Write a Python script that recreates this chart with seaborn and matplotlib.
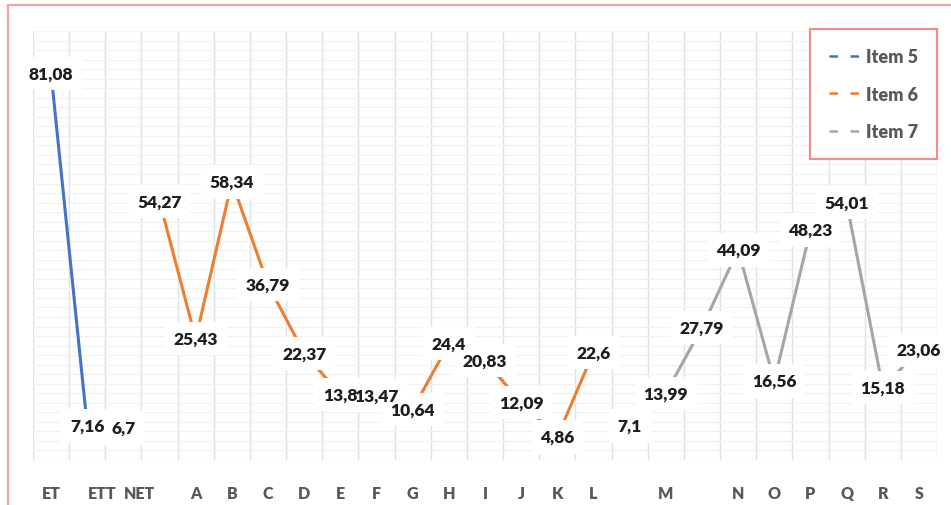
import matplotlib
matplotlib.use("Agg")
import matplotlib.pyplot as plt
import seaborn as sns
import pandas as pd
import numpy as np
from matplotlib.lines import Line2D
from matplotlib.patches import Rectangle
from matplotlib.transforms import ScaledTranslation

# ---------------- data ----------------
categories = ["ET", "", "ETT", "NET", "A", "B", "C", "D", "E", "F", "G", "H", "I",
              "J", "K", "L", "", "M", "", "N", "O", "P", "Q", "R", "S"]
item5_values = [81.08, 7.16, 6.7]
item6_values = [54.27, 25.43, 58.34, 36.79, 22.37, 13.8, 13.47, 10.64, 24.4,
                20.83, 12.09, 4.86, 22.6]
item7_values = [7.1, 13.99, 27.79, 44.09, 16.56, 48.23, 54.01, 15.18, 23.06]
series_names = ["Item 5", "Item 6", "Item 7"]
series_first_category = [0, 3, 16]
series_values = [item5_values, item6_values, item7_values]
colors = ["#4472C4", "#ED7D31", "#A5A5A5"]

rows = []
for name, start, vals in zip(series_names, series_first_category, series_values):
    for i, v in enumerate(vals):
        rows.append({"pos": start + i, "value": v, "series": name})
df = pd.DataFrame(rows)

# ---------------- figure ----------------
sns.set_theme(style="white")
plt.rcParams["font.family"] = ["Lato", "DejaVu Sans"]

W, H = 951, 506
fig = plt.figure(figsize=(W / 100, H / 100), dpi=100)
ax = fig.add_axes([33 / W, 1 - 461 / H, (937 - 33) / W, (461 - 32) / H])

sns.lineplot(data=df, x="pos", y="value", hue="series", palette=colors,
             linewidth=2.2, legend=False, ax=ax, estimator=None, sort=False,
             zorder=2)

ax.set_xlim(-0.5, len(categories) - 0.5)
ax.set_ylim(0, 90)
ax.set_xlabel("")
ax.set_ylabel("")

# grid
ax.set_xticks(np.arange(len(categories)))
ax.set_xticklabels(categories, fontsize=11.5, fontweight="heavy", color="#595959")
ax.set_xticks(np.arange(-0.5, len(categories), 1), minor=True)
ax.set_yticks(np.arange(0, 91, 2))
ax.set_yticklabels([])
ax.tick_params(axis="both", which="both", length=0)
ax.tick_params(axis="x", pad=18)
ax.grid(False)
ax.grid(True, which="minor", axis="x", color="#dde0e6", linewidth=1.0, zorder=0)
ax.grid(True, which="major", axis="y", color="#f1f1f1", linewidth=0.9, zorder=0)
ax.set_axisbelow(True)
for s in ax.spines.values():
    s.set_visible(False)

# shift a couple of tick labels as in reference
shifts = {"ETT": -21, "NET": -20}
for lab in ax.get_xticklabels():
    t = lab.get_text()
    if t in shifts:
        lab.set_transform(lab.get_transform() +
                          ScaledTranslation(shifts[t] / 100, 0, fig.dpi_scale_trans))

# data labels: white boxes first, then text on top
for _, r in df.iterrows():
    txt = f"{r['value']:g}".replace(".", ",")
    ax.text(r["pos"], r["value"], txt, ha="center", va="center", fontsize=12.5,
            fontweight="heavy", color="none", zorder=3,
            bbox=dict(boxstyle="square,pad=0.5", fc="white", ec="none"))
    ax.text(r["pos"], r["value"], txt, ha="center", va="center", fontsize=12.5,
            fontweight="heavy", color="#1e1e1e", zorder=4)

# legend
handles = [Line2D([0], [0], color=c, lw=1.8, linestyle=(0, (3.4, 5.0)))
           for c in colors]
leg = ax.legend(handles, series_names, loc="upper right",
                bbox_to_anchor=(937 / W, 1 - 30 / H), bbox_transform=fig.transFigure,
                borderaxespad=0, frameon=True, fancybox=False,
                handlelength=1.95, handletextpad=0.1, labelspacing=1.15,
                borderpad=1.05, prop={"weight": "heavy", "size": 13})
leg.get_frame().set_edgecolor("#f08c8c")
leg.get_frame().set_linewidth(1.6)
leg.get_frame().set_facecolor("white")
leg.get_frame().set_alpha(1)
for t in leg.get_texts():
    t.set_color("#595959")

# figure border (light red)
fig.patches.append(Rectangle((8 / W, -0.1), 1.2, 0.1 + 1 - 6 / H,
                             transform=fig.transFigure, fill=False,
                             edgecolor="#f5a3a3", linewidth=1.6))

fig.savefig("out.png", dpi=100)
